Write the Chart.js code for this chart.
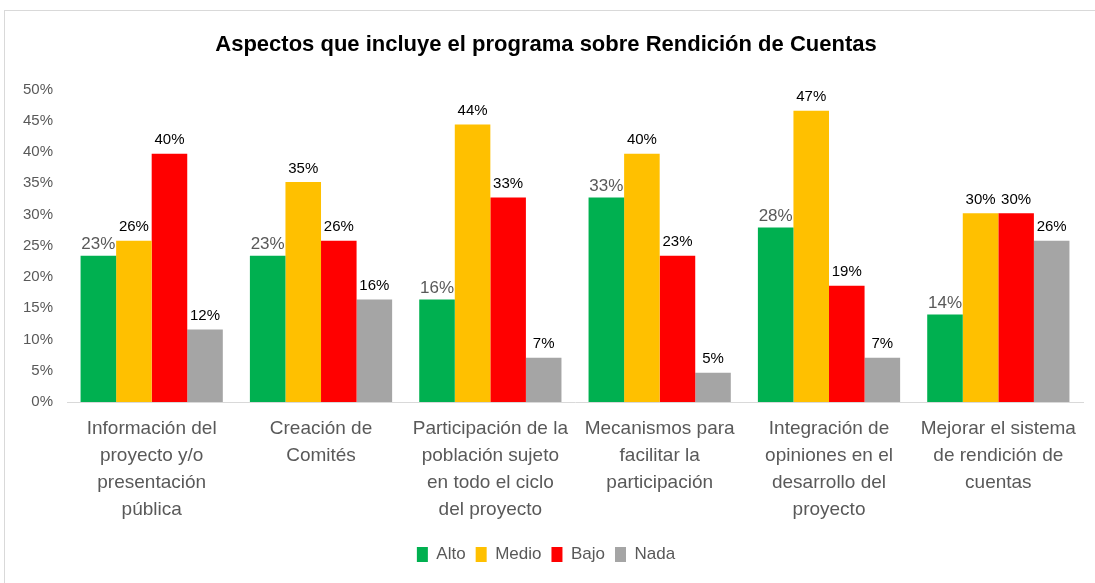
<!DOCTYPE html>
<html>
<head>
<meta charset="utf-8">
<script src="https://cdn.jsdelivr.net/npm/chart.js@4/dist/chart.umd.min.js"></script>
<style>
    html, body { margin: 0; padding: 0; background: #fff; }
    body { width: 1095px; height: 583px; overflow: hidden; position: relative; }
    .frame { position: absolute; left: 4px; top: 10px; width: 1100px; height: 600px; border: 1px solid #d9d9d9; }
    #wrap { position: absolute; left: 0; top: 0; width: 1095px; height: 583px; }
</style>
</head>
<body>
<div class="frame"></div>
<div id="wrap"><canvas id="chart"></canvas></div>
<script>
const categories = [
    ['Información del', 'proyecto y/o', 'presentación', 'pública'],
    ['Creación de', 'Comités'],
    ['Participación de la', 'población sujeto', 'en todo el ciclo', 'del proyecto'],
    ['Mecanismos para', 'facilitar la', 'participación'],
    ['Integración de', 'opiniones en el', 'desarrollo del', 'proyecto'],
    ['Mejorar el sistema', 'de rendición de', 'cuentas']
];
const alto  = [23.4, 23.4, 16.4, 32.7, 27.9, 14.0];
const medio = [25.8, 35.2, 44.4, 39.7, 46.6, 30.2];
const bajo  = [39.7, 25.8, 32.7, 23.4, 18.6, 30.2];
const nada  = [11.6, 16.4, 7.1, 4.7, 7.1, 25.8];

const FONT = "'Liberation Sans Narrow', 'Liberation Sans', Arial, sans-serif";

// labels above each bar
const barLabels = {
    id: 'barLabels',
    afterDatasetsDraw(chart) {
        const ctx = chart.ctx;
        ctx.save();
        ctx.textAlign = 'center';
        ctx.textBaseline = 'bottom';
        chart.data.datasets.forEach((ds, i) => {
            const meta = chart.getDatasetMeta(i);
            const first = i === 0;
            ctx.font = (first ? '17px ' : '15px ') + FONT;
            ctx.fillStyle = first ? '#595959' : '#000000';
            meta.data.forEach((bar, j) => {
                ctx.fillText(Math.round(ds.data[j]) + '%', bar.x, bar.y - (first ? 3 : 6));
            });
        });
        ctx.restore();
    }
};

new Chart(document.getElementById('chart'), {
    type: 'bar',
    data: {
        labels: categories,
        datasets: [
            { label: 'Alto', data: alto, backgroundColor: '#00B050' },
            { label: 'Medio', data: medio, backgroundColor: '#FFC000' },
            { label: 'Bajo', data: bajo, backgroundColor: '#FF0000' },
            { label: 'Nada', data: nada, backgroundColor: '#A5A5A5' }
        ]
    },
    options: {
        responsive: true,
        maintainAspectRatio: false,
        animation: false,
        datasets: {
            bar: { barPercentage: 1, categoryPercentage: 0.84 }
        },
        layout: { padding: { left: 9, right: 12, top: 10, bottom: 10 } },
        plugins: {
            title: {
                display: true,
                text: 'Aspectos que incluye el programa sobre Rendición de Cuentas',
                color: '#000',
                font: { family: FONT, size: 22, weight: 'bold' },
                padding: { top: 22, bottom: 31 }
            },
            legend: {
                position: 'bottom',
                labels: {
                    color: '#595959',
                    font: { family: FONT, size: 17 },
                    boxWidth: 11,
                    boxHeight: 15,
                    padding: 10
                }
            },
            tooltip: { enabled: false }
        },
        scales: {
            x: {
                grid: { display: false, drawTicks: false },
                border: { display: true, color: '#d9d9d9', width: 1 },
                ticks: {
                    color: '#595959',
                    font: { family: FONT, size: 19, lineHeight: 1.42 },
                    maxRotation: 0,
                    autoSkip: false,
                    padding: 13
                }
            },
            y: {
                min: 0,
                max: 50,
                grid: { display: false, drawTicks: false },
                border: { display: false },
                ticks: {
                    stepSize: 5,
                    color: '#595959',
                    font: { family: FONT, size: 15 },
                    padding: 14,
                    callback: v => v + '%'
                }
            }
        }
    },
    plugins: [barLabels]
});
</script>
</body>
</html>
